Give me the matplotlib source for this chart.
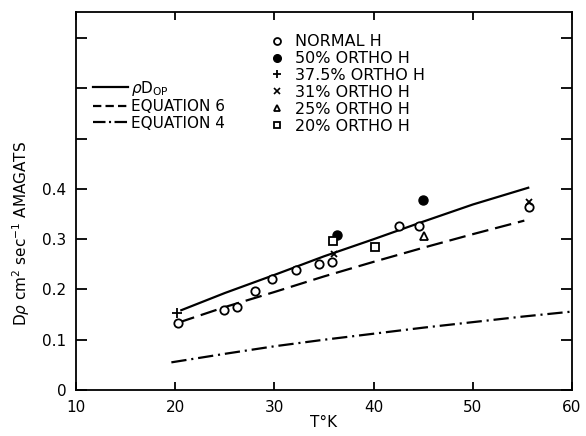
import matplotlib
matplotlib.use("Agg")
import matplotlib.pyplot as plt
from matplotlib.lines import Line2D

# --- data ---
normal_T = [20.3, 24.9, 26.2, 28.0, 29.7, 32.2, 34.5, 35.8, 42.6, 44.6, 55.7]
normal_D = [0.133, 0.159, 0.166, 0.197, 0.220, 0.238, 0.250, 0.255, 0.326, 0.326, 0.364]
ortho50_T = [36.3, 45.0]
ortho50_D = [0.308, 0.377]
ortho375_T = [20.2]
ortho375_D = [0.153]
ortho31_T = [36.0, 55.7]
ortho31_D = [0.270, 0.374]
ortho25_T = [45.1]
ortho25_D = [0.307]
ortho20_T = [35.9, 40.1]
ortho20_D = [0.296, 0.284]

pdop_T = [20.5, 25, 30, 35, 40, 45, 50, 55.7]
pdop_D = [0.158, 0.193, 0.229, 0.266, 0.300, 0.335, 0.369, 0.403]
eq6_T = [20.3, 25, 30, 35, 40, 45, 50, 55.2]
eq6_D = [0.134, 0.165, 0.195, 0.226, 0.255, 0.283, 0.310, 0.337]
eq4_T = [19.6, 25, 30, 35, 40, 45, 50, 55, 60]
eq4_D = [0.055, 0.072, 0.087, 0.100, 0.112, 0.124, 0.135, 0.146, 0.156]

x_ticks = [10, 20, 30, 40, 50, 60]
y_ticks = [0, 0.1, 0.2, 0.3, 0.4, 0.5, 0.6, 0.7]
y_ticklabels = ['0', '0.1', '0.2', '0.3', '0.4', '', '', '']

marker_labels = ['NORMAL H', '50% ORTHO H', '37.5% ORTHO H',
                 '31% ORTHO H', '25% ORTHO H', '20% ORTHO H']
line_labels = [r'$\rho\mathrm{D_{OP}}$', 'EQUATION 6', 'EQUATION 4']

plt.rcParams['font.family'] = ['DejaVu Sans']
plt.rcParams['lines.scale_dashes'] = False

fig = plt.figure(figsize=(5.86, 4.36), dpi=100)
ax = fig.add_axes([0.130, 0.1055, 0.846, 0.867])

lw = 1.6
ax.plot(pdop_T, pdop_D, color='k', lw=lw, solid_capstyle='butt')
ax.plot(eq6_T, eq6_D, color='k', lw=lw, dashes=(12, 5))
ax.plot(eq4_T, eq4_D, color='k', lw=lw, dashes=(11, 3.5, 1.5, 3.5))

ms = 6
open_kw = dict(ls='none', mfc='white', mec='k', mew=1.3, zorder=3)
ax.plot(normal_T, normal_D, marker='o', ms=ms, **open_kw)
ax.plot(ortho50_T, ortho50_D, marker='o', ms=ms + 0.5, ls='none', color='k', zorder=3)
ax.plot(ortho375_T, ortho375_D, marker='+', ms=ms + 1, ls='none', color='k', mew=1.3, zorder=3)
ax.plot(ortho31_T, ortho31_D, marker='x', ms=ms - 1, ls='none', color='k', mew=1.3, zorder=3)
ax.plot(ortho25_T, ortho25_D, marker='^', ms=ms, **open_kw)
ax.plot(ortho20_T, ortho20_D, marker='s', ms=ms - 0.5, **open_kw)

ax.set_xlim(10, 60)
ax.set_ylim(0, 0.752)
ax.set_xticks(x_ticks)
ax.set_yticks(y_ticks)
ax.set_yticklabels(y_ticklabels)
ax.tick_params(direction='in', labelsize=11, width=1.3, top=True, right=True)
ax.tick_params(axis='y', length=8, pad=7)
ax.tick_params(axis='x', length=6, pad=7)
for s in ax.spines.values():
    s.set_linewidth(1.3)

ax.set_xlabel('T°K', fontsize=11, labelpad=0)
fig.text(0.036, 0.465, r'D$\rho$ cm$^2$ sec$^{-1}$ AMAGATS', rotation=90,
         fontsize=11, ha='center', va='center')

# legend for curves (upper left)
line_handles = [
    Line2D([], [], color='k', lw=lw),
    Line2D([], [], color='k', lw=lw, dashes=(6, 3)),
    Line2D([], [], color='k', lw=lw, dashes=(9, 2.5, 1.5, 2.5)),
]
leg1 = ax.legend(line_handles, line_labels, loc='upper left',
                 bbox_to_anchor=(0.022, 0.84), frameon=False, fontsize=11,
                 handlelength=2.3, handletextpad=0.2, labelspacing=0.1,
                 borderaxespad=0)
ax.add_artist(leg1)

# legend for symbols (top centre)
mk_handles = [
    Line2D([], [], marker='o', ms=5, **open_kw),
    Line2D([], [], marker='o', ms=5.5, ls='none', color='k'),
    Line2D([], [], marker='+', ms=6, ls='none', color='k', mew=1.3),
    Line2D([], [], marker='x', ms=4.5, ls='none', color='k', mew=1.2),
    Line2D([], [], marker='^', ms=5, **open_kw),
    Line2D([], [], marker='s', ms=4.5, **open_kw),
]
ax.legend(mk_handles, marker_labels, loc='upper left',
          bbox_to_anchor=(0.38, 0.958), frameon=False, fontsize=11.5,
          handlelength=0.8, handletextpad=0.7, labelspacing=0.12,
          borderaxespad=0)

fig.savefig('out.png', dpi=100)
